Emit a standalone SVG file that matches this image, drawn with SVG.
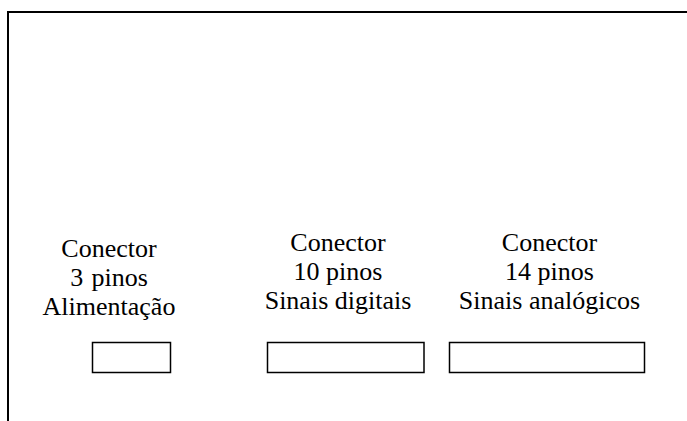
<svg xmlns="http://www.w3.org/2000/svg" width="687" height="421" viewBox="0 0 687 421">
<style>
.frame{fill:none;stroke:#000;stroke-width:2}
.conn{fill:#fff;stroke:#000;stroke-width:1.5}
.lbl{font-size:26px;fill:#000;text-anchor:middle}
</style>
<rect width="687" height="421" fill="#fff"/>
<g id="frame">
<polyline class="frame" points="8,421 8,12 687,12"/>
</g>
<g id="connector-3" font-family="serif">
<text class="lbl" x="109" y="257">Conector</text>
<text class="lbl" x="109" y="286">3<tspan font-family="'DejaVu Serif', serif"> </tspan>pinos</text>
<text class="lbl" x="109" y="315">Alimentação</text>
<rect class="conn" x="92.5" y="342.5" width="78" height="30"/>
</g>
<g id="connector-10" font-family="serif">
<text class="lbl" x="338" y="251">Conector</text>
<text class="lbl" x="338" y="280">10 pinos</text>
<text class="lbl" x="338" y="309">Sinais digitais</text>
<rect class="conn" x="267.5" y="342.5" width="156.5" height="30"/>
</g>
<g id="connector-14" font-family="serif">
<text class="lbl" x="549.5" y="251">Conector</text>
<text class="lbl" x="549.5" y="280">14 pinos</text>
<text class="lbl" x="549.5" y="309">Sinais analógicos</text>
<rect class="conn" x="449.5" y="342.5" width="195" height="30"/>
</g>
<g id="connectors"></g>
</svg>
